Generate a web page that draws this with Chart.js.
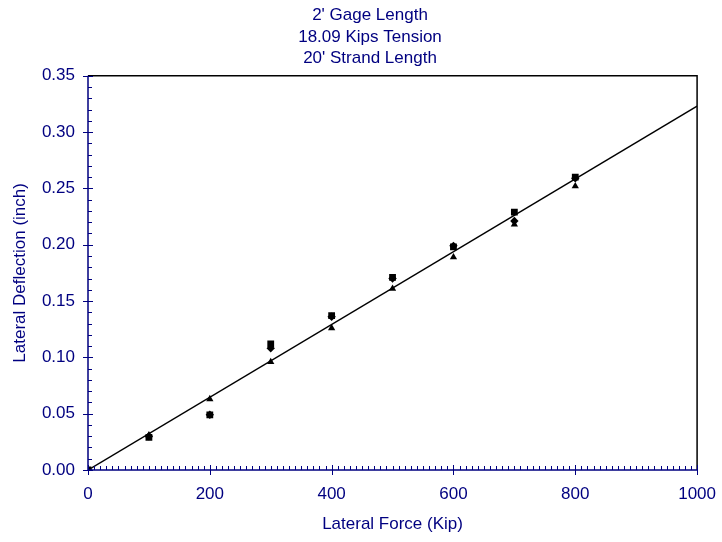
<!DOCTYPE html>
<html>
<head>
<meta charset="utf-8">
<script src="https://cdn.jsdelivr.net/npm/chart.js@4.4.1/dist/chart.umd.min.js"></script>
<style>
  html, body { margin: 0; padding: 0; background: #ffffff; }
  #wrap { width: 722px; height: 542px; }
</style>
</head>
<body>
<div id="wrap"><canvas id="c" width="722" height="542"></canvas></div>
<script>
// ---- Data ----
const titleLines = ["2' Gage Length", "18.09 Kips Tension", "20' Strand Length"];
const forces = [0, 100, 200, 300, 400, 500, 600, 700, 800];
const deflSquare   = [0, 0.029, 0.049, 0.112, 0.137, 0.171, 0.198, 0.229, 0.260];
const deflDiamond  = [0, 0.030, 0.049, 0.108, 0.136, 0.170, 0.199, 0.221, 0.259];
const deflTriangle = [0, 0.031, 0.063, 0.096, 0.126, 0.161, 0.189, 0.218, 0.252];
const fitX = [0, 1000];
const fitY = [0, 0.323];
const xTicks = [0, 200, 400, 600, 800, 1000];
const yTicks = [0, 0.05, 0.10, 0.15, 0.20, 0.25, 0.30, 0.35];

const NAVY = '#000080';
const FONT = 'Liberation Sans, Arial, sans-serif';

function pts(xs, ys) { return xs.map((x, i) => ({ x: x, y: ys[i] })); }

const frameTicks = {
  id: 'frameTicks',
  afterDraw(chart) {
    const ctx = chart.ctx;
    const a = chart.chartArea;
    const xs = chart.scales.x, ys = chart.scales.y;
    ctx.save();
    ctx.strokeStyle = '#000000';
    ctx.lineWidth = 1.5;
    ctx.beginPath();
    ctx.moveTo(a.left, a.top); ctx.lineTo(a.right, a.top); ctx.lineTo(a.right, a.bottom);
    ctx.stroke();
    ctx.strokeStyle = NAVY;
    ctx.lineWidth = 1.5;
    ctx.beginPath();
    ctx.moveTo(a.left, a.top); ctx.lineTo(a.left, a.bottom); ctx.lineTo(a.right, a.bottom);
    ctx.stroke();
    ctx.lineWidth = 1;
    ctx.beginPath();
    for (let v = 0; v <= 1000; v += 10) {
      const px = Math.round(xs.getPixelForValue(v)) + 0.5;
      if (v % 200 === 0) {
        ctx.moveTo(px, a.bottom - 5); ctx.lineTo(px, a.bottom + 5);
      } else {
        ctx.moveTo(px, a.bottom - 4); ctx.lineTo(px, a.bottom);
      }
    }
    for (let k = 0; k <= 35; k++) {
      const v = k / 100;
      const py = Math.round(ys.getPixelForValue(v)) + 0.5;
      if (k % 5 === 0) {
        ctx.moveTo(a.left - 5, py); ctx.lineTo(a.left + 5, py);
      } else {
        ctx.moveTo(a.left, py); ctx.lineTo(a.left + 4, py);
      }
    }
    ctx.stroke();
    ctx.restore();
  }
};

new Chart(document.getElementById('c'), {
  type: 'scatter',
  data: {
    datasets: [
      { label: 'fit', data: pts(fitX, fitY), showLine: true, borderColor: '#000000', borderWidth: 1.5,
        pointRadius: 0, fill: false, order: 4 },
      { label: 'A', data: pts(forces, deflSquare), pointStyle: 'rect', pointRadius: 4.8,
        backgroundColor: '#000000', borderColor: '#000000', borderWidth: 0, order: 1 },
      { label: 'B', data: pts(forces, deflDiamond), pointStyle: 'rectRot', pointRadius: 4.2,
        backgroundColor: '#000000', borderColor: '#000000', borderWidth: 0, order: 2 },
      { label: 'C', data: pts(forces, deflTriangle), pointStyle: 'triangle', pointRadius: 4.2,
        backgroundColor: '#000000', borderColor: '#000000', borderWidth: 0, order: 3 }
    ]
  },
  options: {
    responsive: false,
    animation: false,
    devicePixelRatio: 1,
    layout: { padding: { left: 18, right: 0, top: 0, bottom: 0 } },
    plugins: {
      legend: { display: false },
      tooltip: { enabled: false },
      title: {
        display: true,
        text: titleLines,
        color: NAVY,
        font: { family: FONT, size: 17, weight: 'normal', lineHeight: 1.25 },
        padding: { top: 5, bottom: 7 }
      }
    },
    scales: {
      x: {
        type: 'linear', min: 0, max: 1000,
        afterBuildTicks: (s) => { s.ticks = xTicks.map(v => ({ value: v })); },
        afterFit: (s) => { s.height = 72; },
        grid: { display: false },
        border: { display: false },
        ticks: { color: NAVY, font: { family: FONT, size: 17 }, padding: 6, maxRotation: 0,
                 callback: (v) => String(v) },
        title: { display: true, text: 'Lateral Force (Kip)', color: NAVY,
                 font: { family: FONT, size: 17 }, padding: { top: 4, bottom: 7 } }
      },
      y: {
        type: 'linear', min: 0, max: 0.35,
        afterBuildTicks: (s) => { s.ticks = yTicks.map(v => ({ value: v })); },
        afterFit: (s) => { s.width = 70; },
        grid: { display: false },
        border: { display: false },
        ticks: { color: NAVY, font: { family: FONT, size: 17 }, padding: 5,
                 callback: (v) => Number(v).toFixed(2) },
        title: { display: true, text: 'Lateral Deflection (inch)', color: NAVY,
                 font: { family: FONT, size: 17 }, padding: { top: -8, bottom: 2 } }
      }
    }
  },
  plugins: [frameTicks]
});
</script>
</body>
</html>
